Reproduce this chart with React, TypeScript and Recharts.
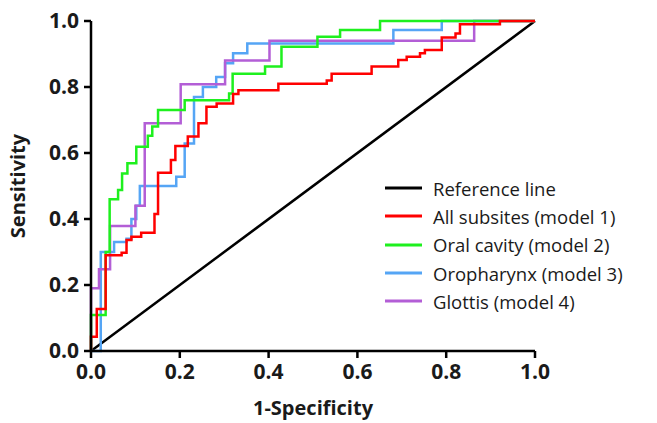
import React from 'react';
import { LineChart, Line, XAxis, YAxis, Legend, Label } from 'recharts';

// axis ticks
const xTicks = [0, 0.2, 0.4, 0.6, 0.8, 1.0];
const yTicks = [0, 0.2, 0.4, 0.6, 0.8, 1.0];

// ROC curves (1-specificity, sensitivity)
const referenceFpr = [0, 1];
const referenceTpr = [0, 1];

const allSubsitesFpr = [0, 0, 0.013, 0.033, 0.069, 0.08, 0.091, 0.113, 0.143, 0.151, 0.18, 0.19, 0.218, 0.242, 0.26, 0.283, 0.32, 0.332, 0.422, 0.531, 0.542, 0.632, 0.692, 0.711, 0.741, 0.752, 0.79, 0.821, 0.831, 0.921, 1.0];
const allSubsitesTpr = [0, 0.043, 0.127, 0.29, 0.298, 0.336, 0.346, 0.358, 0.415, 0.54, 0.579, 0.621, 0.65, 0.69, 0.74, 0.75, 0.779, 0.79, 0.81, 0.82, 0.84, 0.862, 0.882, 0.892, 0.902, 0.912, 0.95, 0.962, 0.99, 1.0, 1.0];

const oralCavityFpr = [0, 0, 0.033, 0.042, 0.061, 0.07, 0.082, 0.102, 0.128, 0.138, 0.151, 0.211, 0.311, 0.319, 0.392, 0.429, 0.51, 0.561, 0.651, 1.0];
const oralCavityTpr = [0, 0.109, 0.30, 0.46, 0.488, 0.538, 0.569, 0.619, 0.652, 0.68, 0.73, 0.76, 0.78, 0.84, 0.862, 0.922, 0.952, 0.973, 1.0, 1.0];

const oropharynxFpr = [0, 0.022, 0.052, 0.08, 0.091, 0.102, 0.11, 0.192, 0.211, 0.232, 0.252, 0.282, 0.302, 0.32, 0.352, 0.681, 0.79, 1.0];
const oropharynxTpr = [0, 0.30, 0.33, 0.34, 0.40, 0.44, 0.50, 0.528, 0.629, 0.77, 0.80, 0.83, 0.872, 0.902, 0.932, 0.973, 1.0, 1.0];

const glottisFpr = [0, 0, 0.018, 0.043, 0.100, 0.121, 0.202, 0.302, 0.402, 0.863, 1.0];
const glottisTpr = [0, 0.19, 0.248, 0.379, 0.44, 0.69, 0.808, 0.88, 0.94, 1.0, 1.0];

const legendOrder = [
  'Reference line',
  'All subsites (model 1)',
  'Oral cavity (model 2)',
  'Oropharynx (model 3)',
  'Glottis (model 4)',
];

const toPoints = (fpr: number[], tpr: number[]) => fpr.map((x, i) => ({ x, y: tpr[i] }));

const FONT = '"Open Sans", sans-serif';

const renderLegend = (props: any) => {
  const payload = props.payload || [];
  const items = legendOrder
    .map(name => payload.find((p: any) => p.value === name))
    .filter(Boolean);
  return (
    <div style={{ fontFamily: FONT, fontSize: 18.5, color: '#1a1a1a' }}>
      {items.map((item: any) => (
        <div key={item.value} style={{ display: 'flex', alignItems: 'center', height: 28.3 }}>
          <svg width={37} height={4} style={{ display: 'block' }}>
            <line x1={0} y1={2} x2={37} y2={2} stroke={item.color} strokeWidth={3} />
          </svg>
          <span style={{ marginLeft: 11, whiteSpace: 'nowrap' }}>{item.value}</span>
        </div>
      ))}
    </div>
  );
};

const App: React.FC = () => {
  const tickStyle = { fontFamily: FONT, fontSize: 21, fontWeight: 'bold', fill: '#1a1a1a' };
  return (
    <div style={{ position: 'absolute', left: 0, top: 0, width: 657, height: 423, background: '#fff' }}>
      <LineChart width={657} height={423} margin={{ top: 21, right: 122, bottom: 0, left: 0 }}>
        <XAxis
          type="number"
          dataKey="x"
          domain={[0, 1]}
          ticks={xTicks}
          tickFormatter={(v: number) => v.toFixed(1)}
          height={72}
          tickSize={7}
          tickMargin={6}
          axisLine={{ stroke: '#000', strokeWidth: 2.5 }}
          tickLine={{ stroke: '#000', strokeWidth: 2.5 }}
          tick={tickStyle}
        >
          <Label
            value="1-Specificity"
            position="insideBottom"
            offset={8}
            fontFamily={FONT}
            fontSize={20}
            fontWeight="bold"
            fill="#1a1a1a"
          />
        </XAxis>
        <YAxis
          type="number"
          dataKey="y"
          domain={[0, 1]}
          ticks={yTicks}
          tickFormatter={(v: number) => v.toFixed(1)}
          width={91}
          tickSize={7}
          tickMargin={5}
          axisLine={{ stroke: '#000', strokeWidth: 2.5 }}
          tickLine={{ stroke: '#000', strokeWidth: 2.5 }}
          tick={tickStyle}
        >
          <Label
            value="Sensitivity"
            angle={-90}
            position="insideLeft"
            offset={18}
            fontFamily={FONT}
            fontSize={20}
            fontWeight="bold"
            fill="#1a1a1a"
            style={{ textAnchor: 'middle' }}
          />
        </YAxis>
        <Legend
          layout="vertical"
          align="center"
          verticalAlign="middle"
          content={renderLegend}
          wrapperStyle={{ left: 385, top: 174, width: 270, height: 150 }}
        />
        <Line name="Reference line" data={toPoints(referenceFpr, referenceTpr)} dataKey="y" type="linear" stroke="#000000" strokeWidth={2.5} dot={false} activeDot={false} isAnimationActive={false} />
        <Line name="Oropharynx (model 3)" data={toPoints(oropharynxFpr, oropharynxTpr)} dataKey="y" type="stepAfter" stroke="#55a5f5" strokeWidth={2.5} dot={false} activeDot={false} isAnimationActive={false} />
        <Line name="Glottis (model 4)" data={toPoints(glottisFpr, glottisTpr)} dataKey="y" type="stepAfter" stroke="#b35ed6" strokeWidth={2.5} dot={false} activeDot={false} isAnimationActive={false} />
        <Line name="Oral cavity (model 2)" data={toPoints(oralCavityFpr, oralCavityTpr)} dataKey="y" type="stepAfter" stroke="#1ef01e" strokeWidth={2.5} dot={false} activeDot={false} isAnimationActive={false} />
        <Line name="All subsites (model 1)" data={toPoints(allSubsitesFpr, allSubsitesTpr)} dataKey="y" type="stepAfter" stroke="#ff0000" strokeWidth={2.5} dot={false} activeDot={false} isAnimationActive={false} />
      </LineChart>
    </div>
  );
};

export default App;
